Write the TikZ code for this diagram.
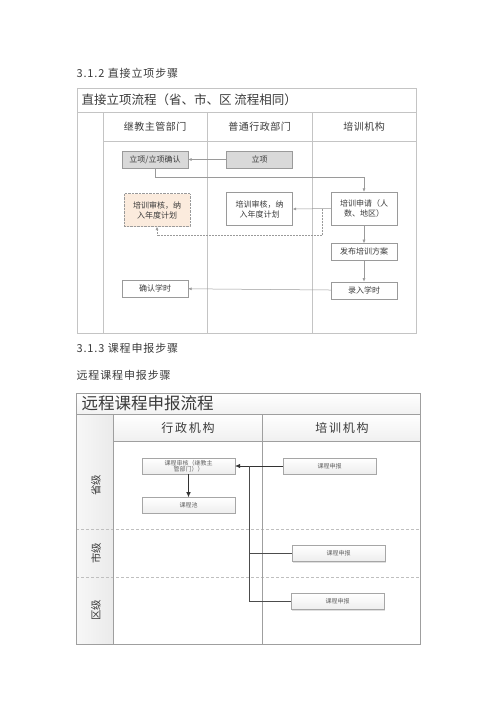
\documentclass[tikz,border=0pt]{standalone}
\usepackage{fontspec}
\setmainfont{Noto Sans CJK SC}
\usetikzlibrary{positioning, arrows.meta, calc, shadows}

\definecolor{lineGray}{HTML}{9A9A9A}
\definecolor{frameGray}{HTML}{C4C4C4}
\definecolor{boxGray}{HTML}{D9D9D9}
\definecolor{peach}{HTML}{FBEBDD}
\definecolor{textGray}{HTML}{3A3A3A}

\begin{document}
\begin{tikzpicture}[
    x=1pt, y=-1pt,
    every node/.style={text=textGray},
    heading/.style={anchor=west, font=\fontsize{11}{13}\selectfont\addfontfeatures{LetterSpace=8}},
    tline/.style={draw=frameGray, line width=0.6pt},
    box/.style={draw=lineGray, rectangle, align=center, minimum width=66pt, minimum height=17pt, inner sep=1pt, font=\fontsize{8}{10}\selectfont},
    tallbox/.style={box, minimum height=33pt},
    graybox/.style={box, fill=boxGray},
    vbox/.style={draw=gray!70, rectangle, align=center, minimum width=93pt, minimum height=16pt, inner sep=0.5pt, top color=white, bottom color=gray!14, drop shadow={opacity=0.25, shadow xshift=1pt, shadow yshift=-1pt}, font=\fontsize{6}{6.5}\selectfont, text=gray!75!black},
    vline/.style={draw=gray!75, line width=0.8pt},
    arr/.style={-{Latex[length=3.5pt, width=3pt]}, draw=lineGray, line width=0.5pt},
    darr/.style={arr, densely dotted},
    varr/.style={-{Latex[length=5pt, width=4.5pt]}, draw=gray!40!black, line width=0.6pt}
]
    \useasboundingbox (0,0) rectangle (500,707);

    % ---- 3.1.2 ----
    \node[heading] (h312) at (73,73) {3.1.2 直接立项步骤};

    \draw[tline] (77,88) rectangle (416,333);
    \draw[tline] (77,112) -- (416,112);
    \draw[tline] (103,141) -- (416,141);
    \foreach \cx in {103, 207, 312}
        \draw[tline] (\cx,112) -- (\cx,333);

    \node[anchor=west, font=\fontsize{12.5}{14}\selectfont] (title1) at (78,100) {直接立项流程（省、市、区~流程相同）};
    \node[font=\fontsize{10}{12}\selectfont\addfontfeatures{LetterSpace=5}] (dept1) at (155,127) {继教主管部门};
    \node[font=\fontsize{10}{12}\selectfont\addfontfeatures{LetterSpace=5}] (dept2) at (259.5,127) {普通行政部门};
    \node[font=\fontsize{10}{12}\selectfont\addfontfeatures{LetterSpace=5}] (dept3) at (364,127) {培训机构};

    \node[graybox] (lxqr) at (155,159.5) {立项/立项确认};
    \node[graybox] (lx) at (259.5,159.5) {立项};
    \node[tallbox] (pxsq) at (364,208.5) {培训申请（人\\数、地区）};
    \node[tallbox] (shenheM) at (259.5,209) {培训审核，纳\\入年度计划};
    \node[tallbox, fill=peach, densely dotted] (shenheL) at (157,210) {培训审核，纳\\入年度计划};
    \node[box, below=18pt of pxsq] (fabu) {发布培训方案};
    \node[box, below=21pt of fabu] (luru) {录入学时};
    \node[box] (queren) at (155,288.5) {确认学时};

    \draw[arr] (lx) -- (lxqr);
    \draw[arr] (lxqr.south) -- ++(0,9) -| (pxsq.north);
    \draw[arr] (pxsq.west) -- (shenheM.east);
    \coordinate (fork) at ($(pxsq.west)+(-9,0)$);
    \draw[darr] (fork) -- ++(0,27) -| (shenheL.south);
    \draw[arr] (pxsq) -- (fabu);
    \draw[arr] (fabu) -- (luru);
    \draw[arr] (luru) -- (queren);

    % ---- 3.1.3 ----
    \node[heading] (h313) at (73,348) {3.1.3 课程申报步骤};
    \node[heading] (sub313) at (73,375) {远程课程申报步骤};

    \fill[top color=white, bottom color=gray!10] (76,393) rectangle (420,414);
    \fill[top color=white, bottom color=gray!12] (113,414) rectangle (420,441);
    \fill[left color=gray!6, right color=gray!16] (76,414) rectangle (113,644);
    \draw[vline, densely dashed, draw=gray!50] (76,529) -- (420,529);
    \draw[vline, densely dashed, draw=gray!50] (76,577) -- (420,577);
    \draw[vline] (76,393) rectangle (420,644);
    \draw[vline] (76,414) -- (420,414);
    \draw[vline] (113,441) -- (420,441);
    \draw[vline] (113,414) -- (113,644);
    \draw[vline] (262,414) -- (262,644);

    \node[anchor=west, font=\fontsize{16.5}{18}\selectfont] (title2) at (78,403.5) {远程课程申报流程};
    \node[font=\fontsize{12}{14}\selectfont\addfontfeatures{LetterSpace=15}] (org1) at (188,427.5) {行政机构};
    \node[font=\fontsize{12}{14}\selectfont\addfontfeatures{LetterSpace=15}] (org2) at (342,427.5) {培训机构};
    \node[rotate=90, font=\fontsize{10.5}{12}\selectfont] (lvS) at (96,485) {省级};
    \node[rotate=90, font=\fontsize{10.5}{12}\selectfont] (lvM) at (96,553) {市级};
    \node[rotate=90, font=\fontsize{10.5}{12}\selectfont] (lvQ) at (96,610) {区级};

    \node[vbox] (kcsh) at (188.5,466) {课程审核（继教主\\管部门））};
    \node[vbox, below=23pt of kcsh] (kcchi) {课程池};
    \node[vbox] (sbS) at (329.5,466) {课程申报};
    \node[vbox] (sbM) at (338.5,553.5) {课程申报};
    \node[vbox] (sbQ) at (337.5,601.5) {课程申报};

    \coordinate (joint) at (249,466);
    \draw[varr] (sbS.west) -- (kcsh.east);
    \draw[varr] (kcsh) -- (kcchi);
    \draw[vline, line width=0.6pt, draw=gray!60!black] (sbQ.west) -| (joint);
    \draw[vline, line width=0.6pt, draw=gray!60!black] (sbM.west) -- (sbM.west -| joint);
\end{tikzpicture}
\end{document}
